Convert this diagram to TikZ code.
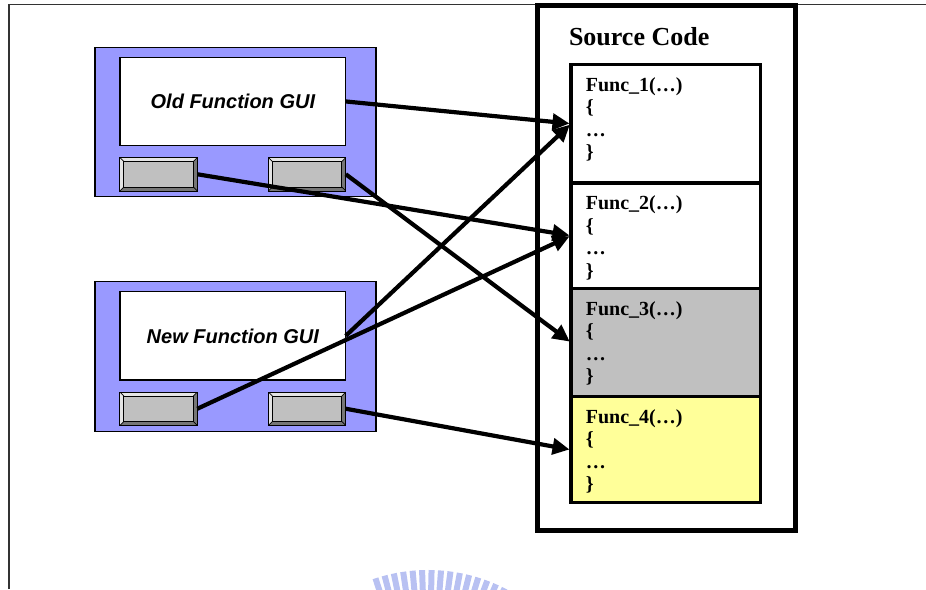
\documentclass[tikz,border=0pt]{standalone}
\usepackage{fontspec}
\setmainfont{Liberation Serif}
\newfontfamily\guifont{Liberation Sans}
\usetikzlibrary{arrows.meta,calc}

\definecolor{guiblue}{RGB}{153,153,255}
\definecolor{codegray}{RGB}{192,192,192}
\definecolor{codeyellow}{RGB}{255,255,153}
\definecolor{btnface}{RGB}{192,192,192}
\definecolor{btnlight}{RGB}{228,228,228}
\definecolor{btndark}{RGB}{118,118,118}
\definecolor{sealblue}{RGB}{160,172,238}

\begin{document}
\begin{tikzpicture}[x=1pt,y=-1pt,
  panel/.style={draw=black, line width=1.2pt, fill=guiblue, anchor=north west,
    inner sep=0, outer sep=0, minimum width=281pt, minimum height=149.5pt},
  screen/.style={draw=black, line width=1.3pt, fill=white, anchor=north west,
    inner sep=0, outer sep=0, minimum width=225.7pt, minimum height=88.3pt,
    font=\guifont\bfseries\itshape\fontsize{20}{24}\selectfont},
  guibtn/.style={draw=black, line width=1pt, fill=btndark, anchor=north west,
    inner sep=0, outer sep=0, minimum width=77.5pt, minimum height=33.5pt,
    path picture={
      \fill[btnlight] (path picture bounding box.north west)
        -- (path picture bounding box.north east)
        -- ([shift={(-4pt,-4pt)}]path picture bounding box.north east)
        -- ([shift={(4pt,-4pt)}]path picture bounding box.north west)
        -- ([shift={(4pt,4pt)}]path picture bounding box.south west)
        -- (path picture bounding box.south west) -- cycle;
      \draw[black, line width=0.7pt]
        (path picture bounding box.north west) -- ([shift={(4pt,-4pt)}]path picture bounding box.north west)
        (path picture bounding box.north east) -- ([shift={(-4pt,-4pt)}]path picture bounding box.north east)
        (path picture bounding box.south west) -- ([shift={(4pt,4pt)}]path picture bounding box.south west)
        (path picture bounding box.south east) -- ([shift={(-4pt,4pt)}]path picture bounding box.south east);
      \filldraw[fill=btnface, draw=black, line width=0.8pt]
        ([shift={(4pt,-4pt)}]path picture bounding box.north west)
        rectangle ([shift={(-4pt,4pt)}]path picture bounding box.south east);
    }},
  funcbox/.style={draw=black, line width=3.3pt, anchor=north west,
    inner sep=0, outer sep=0, minimum width=189.7pt},
  % anchored at the baseline of the closing brace (last of four lines)
  codetext/.style={anchor=base west, align=left, inner sep=0,
    font=\bfseries\fontsize{20}{22.5}\selectfont},
  link/.style={line width=4.2pt, -{Triangle[length=17pt,width=16pt]}, shorten >=1.5pt}
]
\useasboundingbox (0,0) rectangle (926,589);

% page frame
\draw[line width=1.5pt, black!80] (9,589) -- (9,4.5) -- (926,4.5);

% faint seal peeking in at the bottom edge
\begin{scope}
  \clip (0,0) rectangle (926,589);
  \coordinate (sealc) at (428,740);
  \foreach \a in {252,255.2,...,300} {
    \draw[sealblue, line width=6pt, opacity=0.75]
      ($(sealc)+(\a:148)$) -- ($(sealc)+(\a:170)$);
  }
\end{scope}

% old GUI
\node[panel] (oldpanel) at (95,47.3) {};
\node[screen] (oldscr) at (120,57.3) {Old Function GUI};
\node[guibtn] (oldbtnA) at (119.8,157.5) {};
\node[guibtn] (oldbtnB) at (268.3,157.5) {};

% new GUI
\node[panel] (newpanel) at (95,281.7) {};
\node[screen] (newscr) at (120,291.7) {New Function GUI};
\node[guibtn] (newbtnA) at (119.8,392) {};
\node[guibtn] (newbtnB) at (268.3,392) {};

% source code listing
\node[draw=black, line width=4.5pt, anchor=north west, inner sep=0, outer sep=0,
  minimum width=257.8pt, minimum height=525pt] (src) at (537.5,5.3) {};
\node[anchor=base west, inner sep=0, font=\bfseries\fontsize{26}{30}\selectfont]
  (srctitle) at (568.8,45) {Source Code};

\node[funcbox, fill=white, minimum height=118.7pt] (f1) at (571,64.3) {};
\node[funcbox, fill=white, minimum height=105.3pt] (f2) at (571,183) {};
\node[funcbox, fill=codegray, minimum height=108.4pt] (f3) at (571,288.3) {};
\node[funcbox, fill=codeyellow, minimum height=106.1pt] (f4) at (571,396.7) {};
\draw[black, line width=3.3pt] (f1.south west) -- (f1.south east)
  (f2.south west) -- (f2.south east) (f3.south west) -- (f3.south east);

\node[codetext] (t1) at (585.6,158.5) {Func\_1(…)\\\{\\…\\\}};
\node[codetext] (t2) at (585.6,277) {Func\_2(…)\\\{\\…\\\}};
\node[codetext] (t3) at (585.6,382.5) {Func\_3(…)\\\{\\…\\\}};
\node[codetext] (t4) at (585.6,490.8) {Func\_4(…)\\\{\\…\\\}};

% bindings from GUI elements to functions
\draw[link] (oldscr.east) -- (f1.west);
\draw[link] (oldbtnA.east) -- (f2.west);
\draw[link] (oldbtnB.east) -- (f3.west);
\draw[link] (newscr.east) -- (f1.west);
\draw[link] (newbtnA.east) -- (f2.west);
\draw[link] (newbtnB.east) -- (f4.west);
\end{tikzpicture}
\end{document}
